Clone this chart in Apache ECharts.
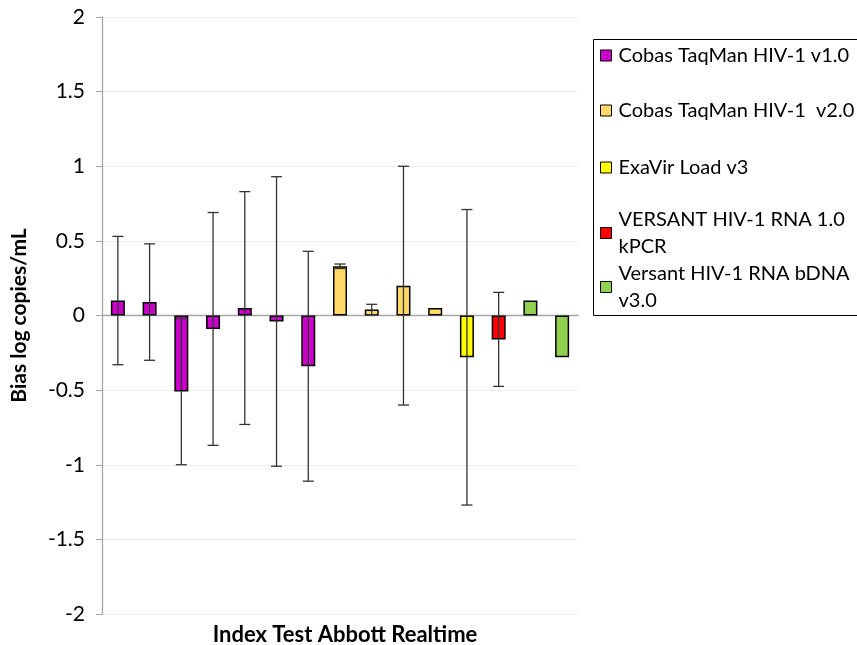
<!DOCTYPE html>
<html><head><meta charset="utf-8">
<script src="https://cdn.jsdelivr.net/npm/echarts@6/dist/echarts.min.js"></script>
<style>html,body{margin:0;padding:0;background:#fff}#c{width:857px;height:645px}</style>
</head><body><div id="c"></div>
<script>
const categories = ['1','2','3','4','5','6','7','8','9','10','11','12','13','14','15'];
const seriesNames = ['Cobas TaqMan HIV-1 v1.0','Cobas TaqMan HIV-1  v2.0','ExaVir Load v3','VERSANT HIV-1 RNA 1.0 kPCR','Versant HIV-1 RNA bDNA v3.0'];
const seriesColors = ['#CC00CC','#FFD966','#FFFF00','#FF0000','#92D050'];
const cobasV1 = [0.10, 0.09, -0.51, -0.09, 0.05, -0.04, -0.34];
const cobasV2 = [0.33, 0.04, 0.20, 0.05];
const exavir = [-0.28];
const versantK = [-0.16];
const versantB = [0.10, -0.28];
// symmetric error half-widths, per bar in order (0 = none)
const errors = [0.43, 0.39, 0.49, 0.78, 0.78, 0.97, 0.77, 0.015, 0.035, 0.80, 0, 0.99, 0.315, 0, 0];
const yTicks = {min: -2, max: 2, interval: 0.5};

const groups = [cobasV1, cobasV2, exavir, versantK, versantB];
const allValues = [].concat(...groups);
const series = [];
let offset = 0;
groups.forEach((g, gi) => {
  const data = categories.map(() => null);
  g.forEach((v, i) => { data[offset + i] = v; });
  offset += g.length;
  series.push({
    name: seriesNames[gi], type: 'bar', data: data, barWidth: 14, barGap: '-100%',
    itemStyle: {color: seriesColors[gi], borderColor: '#000', borderWidth: 1.5},
    emphasis: {disabled: true}
  });
});
const errData = allValues.map((v, i) => [i, v - errors[i], v + errors[i]]).filter((d, i) => errors[i] > 0);
series.push({
  type: 'custom', name: 'err', z: 10, silent: true,
  data: errData,
  renderItem: function (params, api) {
    const x = api.value(0);
    const lo = api.coord([x, api.value(1)]);
    const hi = api.coord([x, api.value(2)]);
    const hw = 5.5;
    const st = {stroke: '#333', lineWidth: 1.3};
    return {type: 'group', children: [
      {type: 'line', shape: {x1: lo[0], y1: lo[1], x2: hi[0], y2: hi[1]}, style: st},
      {type: 'line', shape: {x1: lo[0]-hw, y1: lo[1], x2: lo[0]+hw, y2: lo[1]}, style: st},
      {type: 'line', shape: {x1: hi[0]-hw, y1: hi[1], x2: hi[0]+hw, y2: hi[1]}, style: st}
    ]};
  }
});

const legendTops = [42, 97, 154, 206, 260];
const legends = seriesNames.map((n, i) => ({
  data: [{name: n, icon: 'rect'}], left: 600, top: legendTops[i], orient: 'vertical',
  itemWidth: 11, itemHeight: 11, itemGap: 0, padding: 0,
  textStyle: {fontFamily: 'Lato', fontSize: 20, color: '#000', lineHeight: 27, padding: [0, 0, 0, 2]},
  formatter: function (name) {
    if (name === 'VERSANT HIV-1 RNA 1.0 kPCR') return 'VERSANT HIV-1 RNA 1.0\nkPCR';
    if (name === 'Versant HIV-1 RNA bDNA v3.0') return 'Versant HIV-1 RNA bDNA\nv3.0';
    return name;
  },
  itemStyle: {borderColor: '#000', borderWidth: 1},
  selectedMode: false
}));

const chart = echarts.init(document.getElementById('c'), null, {renderer: 'canvas'});
chart.setOption({
  animation: false,
  backgroundColor: '#fff',
  title: {text: 'Index Test Abbott Realtime', left: 340, textAlign: 'center', top: 619,
    textStyle: {fontFamily: 'Lato', fontSize: 22, fontWeight: 'bold', color: '#000'}},
  legend: legends,
  graphic: [{type: 'rect', shape: {x: 593.5, y: 39.5, width: 400, height: 276}, style: {fill: 'none', stroke: '#000', lineWidth: 1}, z: -1}],
  grid: {left: 102, right: 279, top: 17, bottom: 31, outerBoundsMode: 'none', containLabel: false},
  xAxis: {type: 'category', data: categories,
    axisLine: {onZero: true, lineStyle: {color: '#a6a6a6', width: 1.3}},
    axisTick: {show: false}, axisLabel: {show: false}, splitLine: {show: false}},
  yAxis: {type: 'value', min: yTicks.min, max: yTicks.max, interval: yTicks.interval,
    name: 'Bias log copies/mL', nameLocation: 'middle', nameGap: 72,
    nameTextStyle: {fontFamily: 'Lato', fontSize: 21, fontWeight: 'bold', color: '#000'},
    axisLine: {show: true, lineStyle: {color: '#a6a6a6', width: 1.3}},
    axisTick: {show: true, length: 6, lineStyle: {color: '#a6a6a6'}},
    axisLabel: {fontFamily: 'Lato', fontSize: 21, color: '#000', margin: 17},
    splitLine: {show: true, lineStyle: {color: '#ececec'}}},
  series: series
});
</script></body></html>
